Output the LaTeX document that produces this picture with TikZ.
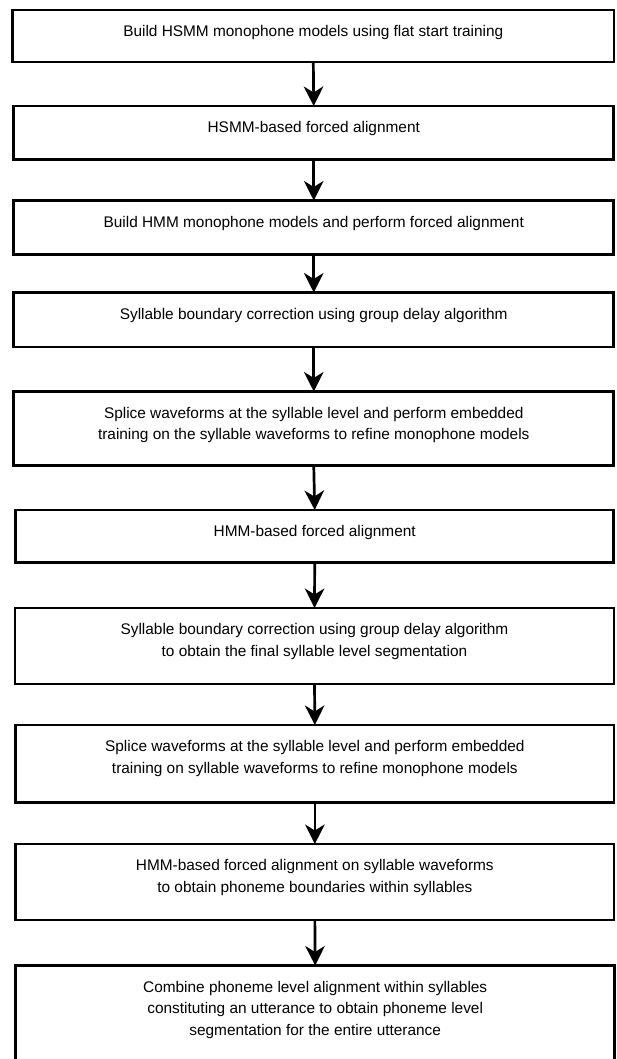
\documentclass[tikz,border=0pt]{standalone}
\usepackage{fontspec}
\setmainfont{Liberation Sans}
\usetikzlibrary{arrows.meta,positioning}
\begin{document}
\begin{tikzpicture}[x=1pt,y=-1pt,
  box/.style={draw=black,line width=2.7pt,inner sep=0pt,outer sep=0pt},
  txt/.style={align=center,inner sep=0pt,outer sep=0pt,font=\fontsize{15.4}{21.7}\selectfont},
  flow/.style={line width=2.7pt,-{Stealth[length=19.5pt,width=19.5pt,inset=6pt]}}]
\useasboundingbox (0,0) rectangle (616,1059);
\clip (0,0) rectangle (616,1059);
\fill[white] (0,0) rectangle (616,1059);

\node[box,minimum width=601.4pt,minimum height=52pt] (b1) at (313.3,36) {};
\node[box,minimum width=599.9pt,minimum height=53.5pt] (b2) at (313.75,132.75) {};
\node[box,minimum width=599.9pt,minimum height=54pt] (b3) at (313.75,227.5) {};
\node[box,minimum width=599.9pt,minimum height=54.5pt] (b4) at (313.75,319.75) {};
\node[box,minimum width=599.9pt,minimum height=74pt] (b5) at (313.75,428.5) {};
\node[box,minimum width=598pt,minimum height=52.7pt] (b6) at (314.7,536.35) {};
\node[box,minimum width=599pt,minimum height=76pt] (b7) at (314.5,646) {};
\node[box,minimum width=598.3pt,minimum height=77.5pt] (b8) at (314.85,763.75) {};
\node[box,minimum width=598.3pt,minimum height=76pt] (b9) at (314.85,882) {};
\node[box,minimum width=599pt,minimum height=105pt] (b10) at (315.2,1018) {};

\node[txt,below=11.5pt of b1.north] (t1) {\strut Build HSMM monophone models using flat start training};
\node[txt,below=11.5pt of b2.north] (t2) {\strut HSMM-based forced alignment};
\node[txt,below=11.5pt of b3.north] (t3) {\strut Build HMM monophone models and perform forced alignment};
\node[txt,below=11.5pt of b4.north] (t4) {\strut Syllable boundary correction using group delay algorithm};
\node[txt,below=11.5pt of b5.north] (t5) {\strut Splice waveforms at the syllable level and perform embedded\\\strut training on the syllable waveforms to refine monophone models};
\node[txt,below=11.5pt of b6.north] (t6) {\strut HMM-based forced alignment};
\node[txt,below=11.5pt of b7.north] (t7) {\strut Syllable boundary correction using group delay algorithm\\\strut to obtain the final syllable level segmentation};
\node[txt,below=11.5pt of b8.north] (t8) {\strut Splice waveforms at the syllable level and perform embedded\\\strut training on syllable waveforms to refine monophone models};
\node[txt,below=11.5pt of b9.north] (t9) {\strut HMM-based forced alignment on syllable waveforms\\\strut to obtain phoneme boundaries within syllables};
\node[txt,below=11.5pt of b10.north] (t10) {\strut Combine phoneme level alignment within syllables\\\strut constituting an utterance to obtain phoneme level\\\strut segmentation for the entire utterance};

\draw[flow] (b1.south) -- (b2.north);
\draw[flow] (b2.south) -- (b3.north);
\draw[flow] (b3.south) -- (b4.north);
\draw[flow] (b4.south) -- (b5.north);
\draw[flow] (b5.south) -- (b6.north);
\draw[flow] (b6.south) -- (b7.north);
\draw[flow] (b7.south) -- (b8.north);
\draw[flow] (b8.south) -- (b9.north);
\draw[flow] (b9.south) -- (b10.north);
\end{tikzpicture}
\end{document}
